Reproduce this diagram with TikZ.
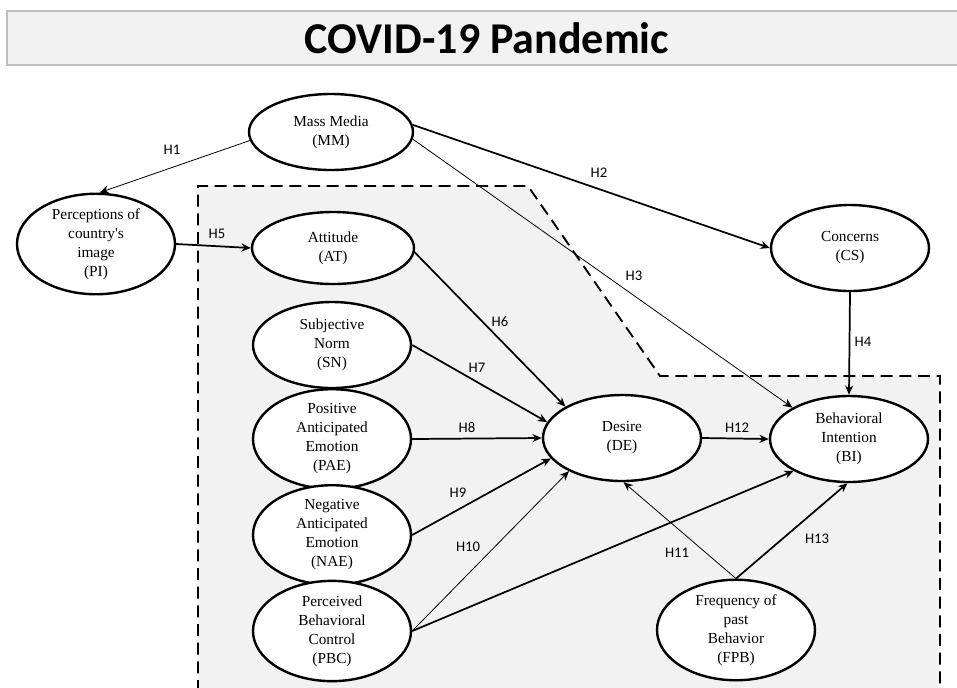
\documentclass[tikz,border=0pt]{standalone}
\usepackage{fontspec}
\setmainfont{Liberation Serif}
\newfontfamily\calibri{Carlito}
\usetikzlibrary{arrows.meta,shapes.geometric}
\definecolor{panelgray}{RGB}{242,242,242}
\definecolor{framegray}{RGB}{191,191,191}

\begin{document}
\begin{tikzpicture}[x=0.75pt,y=-0.75pt,>={Stealth[length=7pt,width=6pt]},
  construct/.style={ellipse,draw,line width=1.8pt,fill=white,inner sep=0pt,
    minimum width=118.5pt,minimum height=64.5pt,align=center,
    font=\fontsize{11.5}{14.25}\selectfont},
  strong/.style={->,line width=1.3pt},
  weak/.style={->,line width=0.6pt},
  hlab/.style={font=\calibri\fontsize{11}{13}\selectfont,inner sep=1pt}]
  % title bar
  \draw[framegray,fill=panelgray,line width=1.2pt] (7,11) rectangle (964,65);
  \node[font=\calibri\bfseries\fontsize{33}{40}\selectfont] (title) at (487,38) {COVID-19 Pandemic};
  % dashed region
  \draw[fill=panelgray,line width=1.4pt,dash pattern=on 9pt off 5pt]
    (198,692) -- (198,186) -- (528,186) -- (660,376) -- (940,376) -- (940,692);
  % constructs
  \node[construct,minimum width=123pt,minimum height=57pt] (MM) at (331,132) {Mass Media\\(MM)};
  \node[construct,minimum height=70.5pt] (PI) at (96,244) {Perceptions of\\country\textquotesingle s\\image\\(PI)};
  \node[construct,minimum width=121.5pt,minimum height=54pt] (AT) at (333,248) {Attitude\\(AT)};
  \node[construct] (CS) at (850,248) {Concerns\\(CS)};
  \node[construct] (SN) at (332,345) {Subjective\\Norm\\(SN)};
  \node[construct] (PAE) at (332,439) {Positive\\Anticipated\\Emotion\\(PAE)};
  \node[construct] (NAE) at (332,535) {Negative\\Anticipated\\Emotion\\(NAE)};
  \node[construct] (PBC) at (332,631) {Perceived\\Behavioral\\Control\\(PBC)};
  \node[construct] (DE) at (622,438) {Desire\\(DE)};
  \node[construct] (BI) at (849,439) {Behavioral\\Intention\\(BI)};
  \node[construct] (FPB) at (736,630) {Frequency of\\past\\Behavior\\(FPB)};
  % paths
  \draw[weak] (MM.186) -- (PI.86);
  \draw[strong] (MM.5) -- (CS.180);
  \draw[weak] (MM.355) -- (BI.151);
  \draw[strong] (CS.south) -- (BI.north);
  \draw[strong] (PI.0) -- (AT.180);
  \draw[strong] (AT.357) -- (DE.151);
  \draw[strong] (SN.0) -- (DE.168);
  \draw[strong] (PAE.0) -- (DE.180);
  \draw[strong] (NAE.0) -- (DE.196);
  \draw[weak] (PBC.0) -- (DE.212);
  \draw[strong] (PBC.0) -- (BI.210);
  \draw[weak] (FPB.north) -- (DE.272);
  \draw[strong] (DE.0) -- (BI.180);
  \draw[strong] (FPB.north) -- (BI.268);
  % hypothesis labels
  \foreach \n/\x/\y in {1/172/150,2/599/173,3/634/276,4/863/342,5/217/234,
      6/500/322,7/477/368,8/467/428,9/458/493,10/468/547,11/677/553,
      12/737/428,13/817/539}
    \node[hlab] (h\n) at (\x,\y) {H\n};
  \pgfresetboundingbox
  \path[use as bounding box] (0,0) rectangle (957,687);
\end{tikzpicture}
\end{document}
